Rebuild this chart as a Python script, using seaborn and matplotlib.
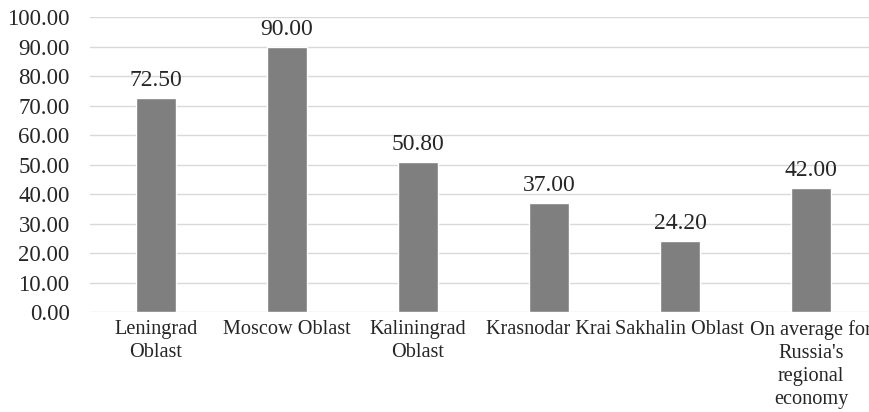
import matplotlib
matplotlib.use("Agg")
import matplotlib.pyplot as plt
import seaborn as sns
import pandas as pd

regions = ["Leningrad\nOblast", "Moscow Oblast", "Kaliningrad\nOblast", "Krasnodar Krai",
           "Sakhalin Oblast", "On average for\nRussia's\nregional\neconomy"]
values = [72.5, 90.0, 50.8, 37.0, 24.2, 42.0]
yticks = [0, 10, 20, 30, 40, 50, 60, 70, 80, 90, 100]

df = pd.DataFrame({"region": regions, "value": values})

sns.set_style("white")
plt.rcParams["font.family"] = ["Liberation Serif", "DejaVu Serif"]

fig = plt.figure(figsize=(8.7, 4.12), dpi=100)
ax = fig.add_axes([0.104, 0.2427, 0.9034, 0.716])
sns.barplot(data=df, x="region", y="value", color="#7f7f7f", width=0.31, saturation=1, ax=ax)

ax.set_ylim(0, 100)
ax.set_yticks(yticks)
ax.set_yticklabels([f"{t:.2f}" for t in yticks])
ax.yaxis.grid(True, color="#d9d9d9", linewidth=1)
ax.set_axisbelow(True)
for s in ax.spines.values():
    s.set_visible(False)
ax.tick_params(axis="y", length=0, pad=15, labelsize=16.5)
ax.tick_params(axis="x", length=0, pad=6, labelsize=14.6)
for lbl in ax.get_xticklabels():
    lbl.set_linespacing(1.28)
ax.set_xlabel("")
ax.set_ylabel("")

ax.bar_label(ax.containers[0], fmt="%.2f", padding=5, fontsize=17)

fig.savefig("out.png", dpi=100)
